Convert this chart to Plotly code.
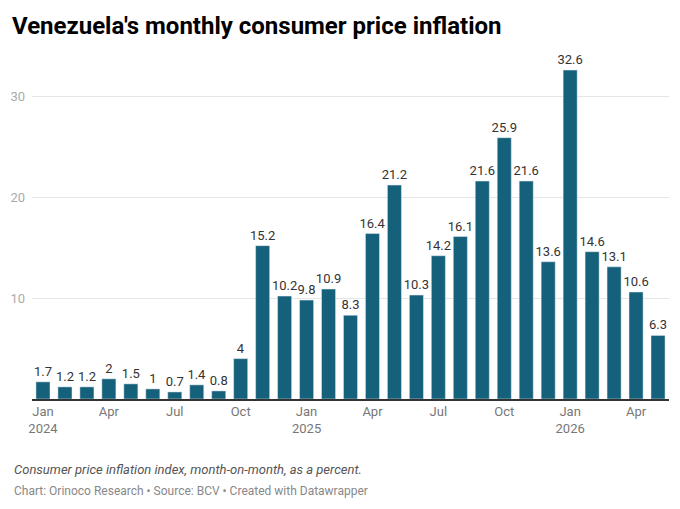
import plotly.graph_objects as go

# Monthly CPI inflation, Jan 2024 - May 2026
months = [
    "2024-01", "2024-02", "2024-03", "2024-04", "2024-05", "2024-06",
    "2024-07", "2024-08", "2024-09", "2024-10", "2024-11", "2024-12",
    "2025-01", "2025-02", "2025-03", "2025-04", "2025-05", "2025-06",
    "2025-07", "2025-08", "2025-09", "2025-10", "2025-11", "2025-12",
    "2026-01", "2026-02", "2026-03", "2026-04", "2026-05",
]
inflation = [
    1.7, 1.2, 1.2, 2, 1.5, 1, 0.7, 1.4, 0.8, 4, 15.2, 10.2,
    9.8, 10.9, 8.3, 16.4, 21.2, 10.3, 14.2, 16.1, 21.6, 25.9, 21.6, 13.6,
    32.6, 14.6, 13.1, 10.6, 6.3,
]
tick_months = ["2024-01", "2024-04", "2024-07", "2024-10", "2025-01", "2025-04",
               "2025-07", "2025-10", "2026-01", "2026-04"]
tick_labels = ["Jan<br>2024", "Apr", "Jul", "Oct", "Jan<br>2025", "Apr",
               "Jul", "Oct", "Jan<br>2026", "Apr"]

bar_color = "#15607a"
font = "Roboto"

fig = go.Figure()

fig.add_trace(go.Bar(
    x=months,
    y=inflation,
    marker_color=bar_color,
    text=[f"{v:g}" for v in inflation],
    textposition="outside",
    textfont=dict(family=font, size=13, color="#333333"),
    constraintext="none",
    cliponaxis=False,
    hoverinfo="x+y",
))

# page body has an 8px margin, so the figure is sized to fit inside it
fig.update_layout(
    width=664,
    height=493,
    margin=dict(l=24, r=3, t=53, b=102, autoexpand=False),
    paper_bgcolor="white",
    plot_bgcolor="white",
    showlegend=False,
    bargap=0.36,
    font=dict(family=font),
    title=dict(
        text="<b>Venezuela's monthly consumer price inflation</b>",
        x=0.006, xanchor="left",
        y=0.965, yanchor="middle",
        font=dict(family=font, size=24, color="#000000"),
    ),
)

fig.update_xaxes(
    type="category",
    tickmode="array",
    tickvals=tick_months,
    ticktext=tick_labels,
    tickfont=dict(family=font, size=13, color="#777777"),
    showgrid=False,
    showline=True,
    linecolor="#333333",
    linewidth=1.5,
    ticks="",
    range=[-0.5, 28.5],
    automargin=False,
)

fig.update_yaxes(
    range=[0, 33.5],
    tickvals=[10, 20, 30],
    tickfont=dict(family=font, size=13, color="#aaaaaa"),
    showgrid=True,
    gridcolor="#e5e5e5",
    gridwidth=1,
    zeroline=False,
    ticks="",
    ticklabelstandoff=6,
    automargin=False,
)

fig.add_annotation(
    text="<i>Consumer price inflation index, month-on-month, as a percent.</i>",
    xref="paper", yref="paper", x=-0.0314, y=-0.21,
    xanchor="left", yanchor="middle", showarrow=False,
    font=dict(family=font, size=13, color="#555555"),
)
fig.add_annotation(
    text="Chart: Orinoco Research \u2022 Source: BCV \u2022 Created with Datawrapper",
    xref="paper", yref="paper", x=-0.0314, y=-0.272,
    xanchor="left", yanchor="middle", showarrow=False,
    font=dict(family=font, size=12, color="#888888"),
)

fig.write_html("out.html")
